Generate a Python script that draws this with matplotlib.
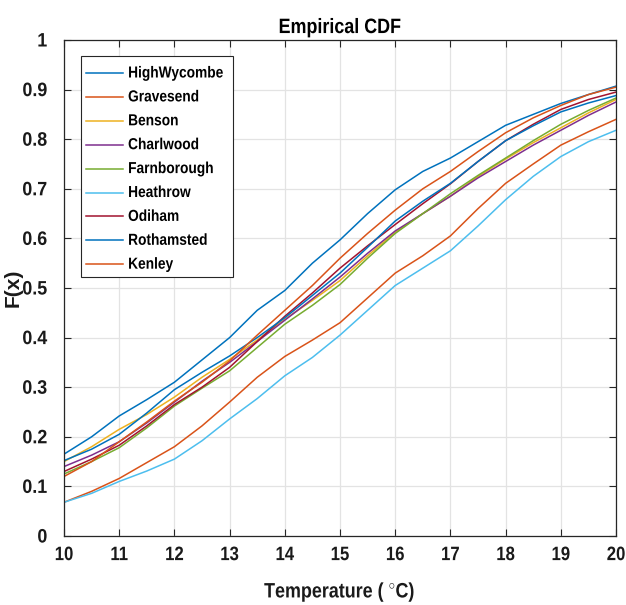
import matplotlib
matplotlib.use("Agg")
import matplotlib.pyplot as plt
from matplotlib.patheffects import AbstractPathEffect
from matplotlib.transforms import Affine2D
from matplotlib.patches import Rectangle
from matplotlib.lines import Line2D

temps = [10, 10.5, 11, 11.5, 12, 12.5, 13, 13.5, 14, 14.5, 15,
         15.5, 16, 16.5, 17, 17.5, 18, 18.5, 19, 19.5, 20]

stations = ["HighWycombe", "Gravesend", "Benson", "Charlwood", "Farnborough",
            "Heathrow", "Odiham", "Rothamsted", "Kenley"]

high_wycombe = [0.165, 0.200, 0.242, 0.275, 0.310, 0.355, 0.400, 0.455, 0.495, 0.550, 0.597,
                0.650, 0.698, 0.735, 0.762, 0.795, 0.828, 0.850, 0.872, 0.890, 0.907]
gravesend = [0.068, 0.090, 0.116, 0.148, 0.180, 0.222, 0.270, 0.320, 0.362, 0.395, 0.430,
             0.480, 0.530, 0.565, 0.605, 0.660, 0.711, 0.750, 0.788, 0.815, 0.840]
benson = [0.150, 0.180, 0.215, 0.245, 0.280, 0.320, 0.356, 0.395, 0.437, 0.475, 0.515,
          0.565, 0.612, 0.650, 0.685, 0.725, 0.760, 0.793, 0.823, 0.853, 0.880]
charlwood = [0.140, 0.163, 0.190, 0.228, 0.270, 0.312, 0.350, 0.392, 0.435, 0.478, 0.522,
             0.570, 0.615, 0.650, 0.685, 0.722, 0.755, 0.788, 0.818, 0.848, 0.875]
farnborough = [0.125, 0.150, 0.178, 0.218, 0.262, 0.298, 0.333, 0.380, 0.427, 0.465, 0.507,
               0.560, 0.610, 0.650, 0.690, 0.727, 0.762, 0.797, 0.830, 0.858, 0.883]
heathrow = [0.068, 0.086, 0.110, 0.131, 0.155, 0.192, 0.236, 0.277, 0.323, 0.360, 0.405,
            0.455, 0.505, 0.540, 0.575, 0.625, 0.678, 0.725, 0.765, 0.795, 0.818]
odiham = [0.130, 0.155, 0.183, 0.222, 0.265, 0.300, 0.340, 0.392, 0.443, 0.490, 0.540,
          0.585, 0.628, 0.670, 0.710, 0.755, 0.797, 0.830, 0.860, 0.880, 0.895]
rothamsted = [0.152, 0.175, 0.205, 0.248, 0.295, 0.330, 0.363, 0.400, 0.440, 0.485, 0.530,
              0.582, 0.635, 0.675, 0.711, 0.755, 0.797, 0.827, 0.855, 0.873, 0.888]
kenley = [0.120, 0.150, 0.190, 0.230, 0.272, 0.310, 0.353, 0.405, 0.455, 0.505, 0.560,
          0.610, 0.657, 0.700, 0.735, 0.775, 0.813, 0.843, 0.868, 0.890, 0.905]

series = [high_wycombe, gravesend, benson, charlwood, farnborough,
          heathrow, odiham, rothamsted, kenley]
colors = ["#0072BD", "#D95319", "#EDB120", "#7E2F8E", "#77AC30",
          "#4DBEEE", "#A2142F", "#0072BD", "#D95319"]

xticks = list(range(10, 21))
yticks = [0, 0.1, 0.2, 0.3, 0.4, 0.5, 0.6, 0.7, 0.8, 0.9, 1]
ytick_labels = ["0", "0.1", "0.2", "0.3", "0.4", "0.5", "0.6", "0.7", "0.8", "0.9", "1"]


class Squeeze(AbstractPathEffect):
    """Draw text narrower (horizontal squeeze) around an anchor."""

    def __init__(self, sx=0.86, anchor="center"):
        super().__init__()
        self.sx = sx
        self.anchor = anchor

    def draw_path(self, renderer, gc, tpath, affine, rgbFace=None):
        ext = tpath.get_extents(affine)
        if self.anchor == "left":
            cx = ext.x0
        elif self.anchor == "right":
            cx = ext.x1
        else:
            cx = 0.5 * (ext.x0 + ext.x1)
        t = affine + Affine2D().translate(-cx, 0).scale(self.sx, 1).translate(cx, 0)
        renderer.draw_path(gc, tpath, t, rgbFace)


plt.rcParams["font.family"] = ["Liberation Sans", "DejaVu Sans"]
plt.rcParams["font.weight"] = "bold"
plt.rcParams["mathtext.fontset"] = "custom"
plt.rcParams["mathtext.rm"] = "Liberation Sans:bold"
plt.rcParams["mathtext.bf"] = "Liberation Sans:bold"

fig = plt.figure(figsize=(6.26, 6.05), dpi=100)
ax = fig.add_axes([64 / 626, 69 / 605, 552 / 626, 496 / 605])

for name, vals, c in zip(stations, series, colors):
    ax.plot(temps, vals, color=c, lw=1.1, label=name)

ax.set_xlim(10, 20)
ax.set_ylim(0, 1)
ax.set_xticks(xticks)
ax.set_xticklabels([str(t) for t in xticks])
ax.set_yticks(yticks)
ax.set_yticklabels(ytick_labels)
ax.grid(True, color="#e3e3e3", lw=0.9)
ax.set_axisbelow(True)
ax.tick_params(direction="in", length=5, width=0.8, colors="#262626",
               labelsize=14, top=True, right=True)
ax.tick_params(axis="x", pad=8)
ax.tick_params(axis="y", pad=12)
for t in ax.get_xticklabels():
    t.set_fontweight("bold")
    t.set_color("#1a1a1a")
    t.set_path_effects([Squeeze(0.86, "center")])
for t in ax.get_yticklabels():
    t.set_fontweight("bold")
    t.set_color("#1a1a1a")
    t.set_path_effects([Squeeze(0.92, "right")])
for s in ax.spines.values():
    s.set_color("#262626")
    s.set_linewidth(0.9)

xl = ax.set_xlabel("Temperature ( $^{\\circ}$C)", fontsize=15, fontweight="bold",
                   color="#1a1a1a", va="center", ha="center")
xl.set_path_effects([Squeeze(0.86, "center")])
ax.xaxis.set_label_coords(0.5, -0.113)
yl = ax.set_ylabel("F(x)", fontsize=15, fontweight="bold", color="#1a1a1a",
                   va="center", ha="center")
ax.yaxis.set_label_coords(-0.092, 0.5)
ti = ax.set_title("Empirical CDF", fontsize=15, fontweight="bold", color="#000000", pad=5)
ti.set_path_effects([Squeeze(0.86, "center")])

# legend drawn in axes coordinates
x_box0, x_box1 = 0.0303, 0.3056
y_box0, y_box1 = 0.5222, 0.9677
ax.add_patch(Rectangle((x_box0, y_box0), x_box1 - x_box0, y_box1 - y_box0,
                       transform=ax.transAxes, facecolor="white",
                       edgecolor="#262626", lw=0.8, zorder=5))
row_px = 23.9
for i, (name, c) in enumerate(zip(stations, colors)):
    yc = (536 - (73 + i * row_px)) / 496
    ax.add_line(Line2D([0.0399, 0.1069], [yc, yc], transform=ax.transAxes,
                       color=c, lw=1.1, zorder=6))
    tx = ax.text(0.1159, yc, name, transform=ax.transAxes, fontsize=11.5,
                 fontweight="bold", color="#000000", va="center", ha="left", zorder=6)
    tx.set_path_effects([Squeeze(0.86, "left")])

fig.savefig("out.png", dpi=100)
